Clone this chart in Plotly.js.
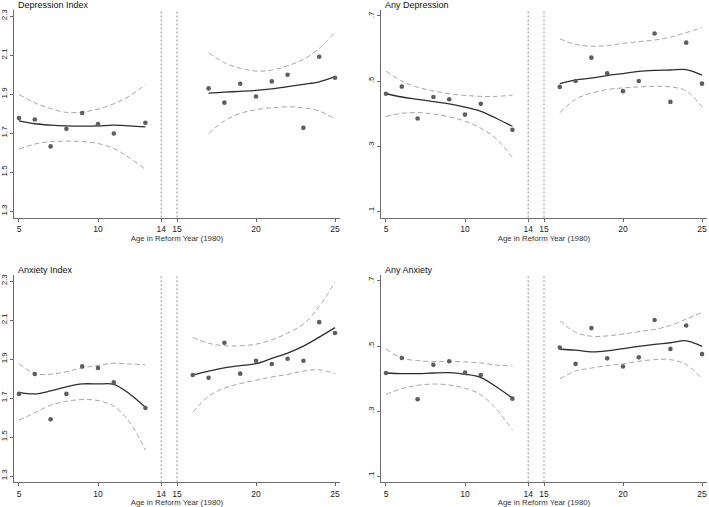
<!DOCTYPE html>
<html>
<head>
<meta charset="utf-8">
<script src="https://cdn.plot.ly/plotly-3.0.1.min.js"></script>
<style>html,body{margin:0;padding:0;background:#fff;}#chart{width:709px;height:507px;}</style>
</head>
<body>
<div id="chart"></div>
<script>
// ---------- Data ----------
const panelTitles = ["Depression Index", "Any Depression", "Anxiety Index", "Any Anxiety"];
const xTickVals = [5, 10, 14, 15, 20, 25];
const cutoffs = [14, 15];
const indexTicks = [1.3, 1.5, 1.7, 1.9, 2.1, 2.3];
const indexTickText = ["1.3", "1.5", "1.7", "1.9", "2.1", "2.3"];
const anyTicks = [0.1, 0.3, 0.5, 0.7];
const anyTickText = [".1", ".3", ".5", ".7"];

const xPtsLeft = [5, 6, 7, 8, 9, 10, 11, 13];
const xFitLeft = [5, 6, 7, 8, 9, 10, 11, 12, 13];
const xRight17 = [17, 18, 19, 20, 21, 22, 23, 24, 25];
const xRight16 = [16, 17, 18, 19, 20, 21, 22, 23, 24, 25];

// Depression Index
const depIdxPtsL = [1.777, 1.770, 1.632, 1.722, 1.803, 1.746, 1.698, 1.753];
const depIdxFitL = [1.763, 1.748, 1.741, 1.737, 1.736, 1.737, 1.741, 1.737, 1.732];
const depIdxUpL  = [1.898, 1.855, 1.826, 1.806, 1.808, 1.823, 1.850, 1.890, 1.949];
const depIdxLoL  = [1.618, 1.644, 1.656, 1.659, 1.657, 1.647, 1.621, 1.573, 1.514];
const depIdxPtsR = [1.929, 1.856, 1.953, 1.888, 1.965, 1.999, 1.727, 2.091, 1.984];
const depIdxFitR = [1.905, 1.910, 1.914, 1.919, 1.927, 1.938, 1.950, 1.963, 1.989];
const depIdxUpR  = [2.112, 2.061, 2.032, 2.018, 2.023, 2.045, 2.078, 2.134, 2.218];
const depIdxLoR  = [1.698, 1.763, 1.801, 1.820, 1.830, 1.835, 1.830, 1.813, 1.772];

// Any Depression
const anyDepPtsL = [0.461, 0.483, 0.385, 0.451, 0.444, 0.397, 0.430, 0.350];
const anyDepFitL = [0.461, 0.451, 0.444, 0.437, 0.430, 0.420, 0.407, 0.385, 0.361];
const anyDepUpL  = [0.531, 0.500, 0.481, 0.470, 0.461, 0.456, 0.453, 0.453, 0.457];
const anyDepLoL  = [0.391, 0.401, 0.403, 0.399, 0.390, 0.377, 0.355, 0.322, 0.264];
const anyDepPtsR = [0.482, 0.500, 0.572, 0.524, 0.469, 0.500, 0.646, 0.436, 0.618, 0.492];
const anyDepFitR = [0.492, 0.503, 0.509, 0.517, 0.523, 0.530, 0.533, 0.534, 0.535, 0.518];
const anyDepUpR  = [0.630, 0.613, 0.607, 0.609, 0.616, 0.621, 0.626, 0.635, 0.649, 0.665];
const anyDepLoR  = [0.403, 0.444, 0.463, 0.474, 0.479, 0.482, 0.484, 0.482, 0.470, 0.420];

// Anxiety Index
const anxIdxPtsL = [1.721, 1.823, 1.591, 1.721, 1.862, 1.854, 1.780, 1.649];
const anxIdxFitL = [1.729, 1.721, 1.736, 1.757, 1.772, 1.772, 1.770, 1.721, 1.653];
const anxIdxUpL  = [1.876, 1.825, 1.822, 1.835, 1.854, 1.867, 1.878, 1.874, 1.871];
const anxIdxLoL  = [1.586, 1.624, 1.663, 1.683, 1.692, 1.687, 1.658, 1.576, 1.433];
const anxIdxPtsR = [1.818, 1.804, 1.983, 1.825, 1.891, 1.874, 1.901, 1.891, 2.089, 2.033];
const anxIdxFitR = [1.818, 1.838, 1.855, 1.866, 1.876, 1.903, 1.930, 1.966, 2.012, 2.061];
const anxIdxUpR  = [2.010, 1.981, 1.968, 1.968, 1.976, 1.998, 2.033, 2.079, 2.169, 2.295];
const anxIdxLoR  = [1.627, 1.709, 1.751, 1.774, 1.791, 1.808, 1.821, 1.838, 1.845, 1.825];

// Any Anxiety
const anyAnxPtsL = [0.417, 0.463, 0.336, 0.442, 0.453, 0.418, 0.411, 0.338];
const anyAnxFitL = [0.417, 0.415, 0.415, 0.417, 0.418, 0.413, 0.403, 0.374, 0.340];
const anyAnxUpL  = [0.491, 0.463, 0.455, 0.452, 0.453, 0.451, 0.448, 0.441, 0.439];
const anyAnxLoL  = [0.351, 0.369, 0.379, 0.383, 0.380, 0.370, 0.350, 0.305, 0.241];
const anyAnxPtsR = [0.495, 0.445, 0.555, 0.462, 0.437, 0.465, 0.580, 0.491, 0.563, 0.475];
const anyAnxFitR = [0.490, 0.487, 0.482, 0.485, 0.492, 0.499, 0.505, 0.510, 0.516, 0.499];
const anyAnxUpR  = [0.578, 0.542, 0.530, 0.531, 0.537, 0.544, 0.551, 0.563, 0.583, 0.603];
const anyAnxLoR  = [0.399, 0.423, 0.432, 0.440, 0.445, 0.453, 0.458, 0.458, 0.443, 0.399];

// ---------- Build ----------
const FONT = "Liberation Sans, Arial, Helvetica, sans-serif";
const ptColor = "#5e5e5e", fitColor = "#2e2e2e", ciColor = "#a6a6a6", axColor = "#6b6b6b";

const panels = [
  {xr: xRight17, pl: depIdxPtsL, fl: depIdxFitL, ul: depIdxUpL, ll: depIdxLoL, pr: depIdxPtsR, fr: depIdxFitR, ur: depIdxUpR, lr: depIdxLoR, any: false},
  {xr: xRight16, pl: anyDepPtsL, fl: anyDepFitL, ul: anyDepUpL, ll: anyDepLoL, pr: anyDepPtsR, fr: anyDepFitR, ur: anyDepUpR, lr: anyDepLoR, any: true},
  {xr: xRight16, pl: anxIdxPtsL, fl: anxIdxFitL, ul: anxIdxUpL, ll: anxIdxLoL, pr: anxIdxPtsR, fr: anxIdxFitR, ur: anxIdxUpR, lr: anxIdxLoR, any: false},
  {xr: xRight16, pl: anyAnxPtsL, fl: anyAnxFitL, ul: anyAnxUpL, ll: anyAnxLoL, pr: anyAnxPtsR, fr: anyAnxFitR, ur: anyAnxUpR, lr: anyAnxLoR, any: true}
];

const W = 709, H = 507;
const xDomains = [[14 / W, 340 / W], [381 / W, 707 / W]];
const yDomains = [[1 - 217.5 / H, 1 - 10 / H], [1 - 482.3 / H, 1 - 275 / H]];

const traces = [];
const layout = {
  width: W, height: H,
  margin: {l: 0, r: 0, t: 0, b: 0},
  paper_bgcolor: "#ffffff", plot_bgcolor: "#ffffff",
  showlegend: false,
  font: {family: FONT, color: "#222"},
  shapes: [], annotations: []
};

panels.forEach((p, i) => {
  const n = i + 1;
  const xa = "x" + (n === 1 ? "" : n), ya = "y" + (n === 1 ? "" : n);
  const col = i % 2, row = Math.floor(i / 2);
  const ci = (x, y) => ({x: x, y: y, xaxis: xa, yaxis: ya, mode: "lines", type: "scatter",
    line: {color: ciColor, width: 1, dash: "5px,3px", shape: "spline", smoothing: 1}, hoverinfo: "skip"});
  const fit = (x, y) => ({x: x, y: y, xaxis: xa, yaxis: ya, mode: "lines", type: "scatter",
    line: {color: fitColor, width: 1.3, shape: "spline", smoothing: 1}, hoverinfo: "skip"});
  const pts = (x, y) => ({x: x, y: y, xaxis: xa, yaxis: ya, mode: "markers", type: "scatter",
    marker: {color: ptColor, size: 4.6}});
  traces.push(ci(xFitLeft, p.ul), ci(xFitLeft, p.ll), ci(p.xr, p.ur), ci(p.xr, p.lr));
  traces.push(fit(xFitLeft, p.fl), fit(p.xr, p.fr));
  traces.push(pts(xPtsLeft, p.pl), pts(p.xr, p.pr));

  const axCommon = {showgrid: false, zeroline: false, showline: true, linecolor: axColor, linewidth: 1,
    ticks: "outside", ticklen: 3, tickcolor: axColor, tickwidth: 1, fixedrange: true};
  layout["xaxis" + (n === 1 ? "" : n)] = Object.assign({}, axCommon, {
    domain: xDomains[col], anchor: ya, range: [4.684, 25.316],
    tickmode: "array", tickvals: xTickVals, ticktext: xTickVals.map(String),
    tickfont: {size: 8.5, family: FONT, color: "#222"},
    title: {text: "Age in Reform Year (1980)", font: {size: 7.8, family: FONT, color: "#333"}, standoff: 2}
  });
  layout["yaxis" + (n === 1 ? "" : n)] = Object.assign({}, axCommon, {
    domain: yDomains[row], anchor: xa,
    range: p.any ? [0.0807, 0.7184] : [1.2677, 2.3308],
    tickmode: "array", tickvals: p.any ? anyTicks : indexTicks, ticktext: p.any ? anyTickText : indexTickText,
    tickangle: -90, tickfont: {size: 8, family: FONT, color: "#222"}
  });
  cutoffs.forEach(c => layout.shapes.push({type: "line", xref: xa, yref: ya + " domain", x0: c, x1: c, y0: 0, y1: 1,
    line: {color: "#8f8f8f", width: 1, dash: "2px,2px"}}));
  layout.annotations.push({text: panelTitles[i], xref: "paper", yref: "paper",
    x: xDomains[col][0] + 1.5 / W, y: row === 0 ? 1 - 5 / H : 1 - 269.5 / H,
    xanchor: "left", yanchor: "middle", showarrow: false,
    font: {size: 9, family: FONT, color: "#111"}});
});

Plotly.newPlot("chart", traces, layout, {displayModeBar: false, staticPlot: true});
</script>
</body>
</html>
